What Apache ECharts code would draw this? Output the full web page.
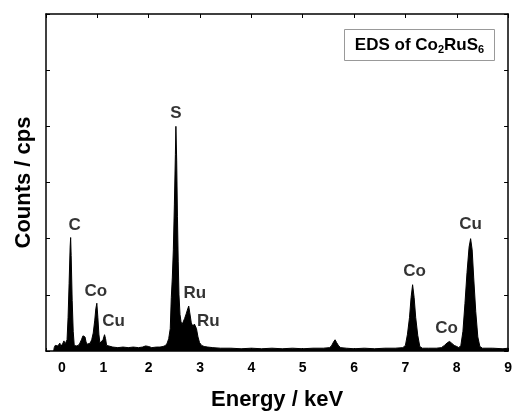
<!DOCTYPE html>
<html>
<head>
<meta charset="utf-8">
<script src="https://cdn.jsdelivr.net/npm/echarts@6/dist/echarts.min.js"></script>
<style>
html,body{margin:0;padding:0;background:#fff;overflow:hidden;}
#chart{width:515px;height:416px;}
</style>
</head>
<body>
<div id="chart"></div>
<script>
// Spectrum (energy in keV, counts in arbitrary cps units)
const energy = [
  0.15,0.16,0.18,0.19,0.21,0.23,0.25,0.27,0.29,0.31,0.33,0.35,0.37,0.39,
  0.41,0.43,0.45,0.47,0.48,0.49,0.51,0.53,0.55,0.57,0.59,0.61,0.63,0.66,
  0.69,0.72,0.74,0.76,0.78,0.80,0.83,0.86,0.89,0.92,0.95,0.97,0.99,1.01,
  1.03,1.05,1.08,1.11,1.14,1.16,1.18,1.21,1.30,1.40,1.50,1.60,1.70,1.80,
  1.88,1.94,1.97,2.00,2.06,2.15,2.22,2.28,2.33,2.36,2.39,2.42,2.44,2.46,
  2.48,2.50,2.52,2.53,2.545,2.56,2.575,2.59,2.61,2.63,2.65,2.67,2.70,2.73,
  2.76,2.78,2.80,2.83,2.86,2.89,2.91,2.93,2.96,2.99,3.03,3.08,3.15,3.25,
  3.40,3.60,3.80,4.00,4.20,4.40,4.60,4.80,5.00,5.20,5.40,5.52,5.56,5.60,
  5.63,5.66,5.70,5.74,5.85,6.00,6.20,6.40,6.60,6.80,6.95,7.00,7.04,7.08,
  7.11,7.14,7.17,7.20,7.24,7.28,7.33,7.45,7.60,7.70,7.76,7.82,7.86,7.90,
  7.95,8.00,8.04,8.08,8.12,8.16,8.20,8.24,8.27,8.30,8.33,8.37,8.41,8.45,
  8.50,8.70,8.90,9.00
];
const counts = [
  0.00,0.06,0.10,0.13,0.07,0.09,0.12,0.14,0.08,0.10,0.14,0.18,0.12,0.10,
  0.20,0.60,1.20,1.85,2.02,1.70,0.90,0.35,0.10,0.07,0.09,0.08,0.10,0.14,
  0.20,0.27,0.30,0.25,0.16,0.12,0.10,0.14,0.20,0.32,0.55,0.75,0.85,0.60,
  0.30,0.14,0.12,0.20,0.29,0.22,0.10,0.07,0.07,0.06,0.07,0.06,0.07,0.06,
  0.07,0.09,0.10,0.08,0.06,0.07,0.07,0.08,0.10,0.14,0.22,0.40,0.95,1.30,
  1.80,2.60,3.50,4.00,3.40,2.40,1.60,1.00,0.65,0.52,0.47,0.50,0.58,0.66,
  0.75,0.80,0.68,0.50,0.44,0.48,0.50,0.40,0.25,0.15,0.10,0.08,0.07,0.06,
  0.05,0.05,0.04,0.05,0.04,0.05,0.04,0.05,0.04,0.05,0.05,0.06,0.09,0.16,
  0.20,0.15,0.09,0.06,0.05,0.04,0.05,0.04,0.05,0.05,0.06,0.10,0.30,0.60,
  0.95,1.18,0.95,0.60,0.28,0.08,0.05,0.05,0.05,0.06,0.10,0.15,0.17,0.14,
  0.10,0.08,0.06,0.10,0.35,0.85,1.40,1.85,2.00,1.80,1.30,0.70,0.25,0.08,
  0.05,0.05,0.04,0.05
];
// Peak annotations
const peakNames  = ['C','Co','Cu','S','Ru','Ru','Co','Co','Cu'];
const peakEnergy = [0.48,0.99,1.14,2.53,2.78,2.91,7.14,7.86,8.27];
const peakHeight = [2.02,0.85,0.29,4.00,0.80,0.50,1.18,0.17,2.00];
const xTicks = [0,1,2,3,4,5,6,7,8,9];

const FONT = '"Liberation Sans", Arial, sans-serif';
const labelOffsets = [[4,-12],[-1,-12],[9,-13],[0,-13],[6,-13],[13,-2],[2,-13],[-3,-13],[0,-14]];

const chart = echarts.init(document.getElementById('chart'), null, {renderer:'canvas'});
const spectrum = energy.map((e,i)=>[e, counts[i]]);
const peaks = peakNames.map((n,i)=>({
  name:n, value:[peakEnergy[i], peakHeight[i]],
  label:{offset:labelOffsets[i]}
}));

const axLine = {show:true, onZero:false, lineStyle:{color:'#000', width:1.5}};
chart.setOption({
  animation:false,
  textStyle:{fontFamily:FONT},
  grid:{left:46, right:1, top:14, bottom:57, containLabel:false},
  xAxis:[{
    type:'value', min:xTicks[0], max:xTicks[xTicks.length-1], interval:1,
    position:'bottom',
    axisLine:axLine,
    axisTick:{show:true, inside:true, length:3, lineStyle:{color:'#000', width:1}},
    splitLine:{show:false},
    axisLabel:{
      show:true, margin:10, color:'#000', fontSize:14, fontWeight:'bold', fontFamily:FONT,
      formatter:function(v){ if(v===0) return '{z|0}'; if(v===1) return '{o|1}'; return String(v); },
      rich:{
        z:{padding:[0,0,0,32], fontSize:14, fontWeight:'bold', fontFamily:FONT, color:'#000'},
        o:{padding:[0,0,0,12], fontSize:14, fontWeight:'bold', fontFamily:FONT, color:'#000'}
      }
    },
    name:'Energy / keV', nameLocation:'middle', nameGap:38,
    nameTextStyle:{fontSize:22, fontWeight:'bold', color:'#000', fontFamily:FONT}
  },{
    type:'value', min:xTicks[0], max:xTicks[xTicks.length-1], interval:1,
    position:'top',
    axisLine:axLine,
    axisTick:{show:true, inside:true, length:4, lineStyle:{color:'#000', width:1}},
    splitLine:{show:false}, axisLabel:{show:false}
  }],
  yAxis:[{
    type:'value', min:0, max:6, interval:1, position:'left',
    axisLine:axLine,
    axisTick:{show:true, inside:true, length:4, lineStyle:{color:'#000', width:1}},
    splitLine:{show:false}, axisLabel:{show:false},
    name:'Counts / cps', nameLocation:'middle', nameGap:11,
    nameTextStyle:{fontSize:22, fontWeight:'bold', color:'#000', fontFamily:FONT}
  },{
    type:'value', min:0, max:6, interval:1, position:'right',
    axisLine:axLine,
    axisTick:{show:true, inside:true, length:4, lineStyle:{color:'#000', width:1}},
    splitLine:{show:false}, axisLabel:{show:false}
  }],
  series:[{
    type:'line', data:spectrum, xAxisIndex:0, yAxisIndex:0,
    symbol:'none', smooth:false,
    lineStyle:{color:'#000', width:1},
    areaStyle:{color:'#000', opacity:1},
    z:2
  },{
    type:'scatter', data:peaks, xAxisIndex:0, yAxisIndex:0,
    symbolSize:0, silent:true, z:5,
    label:{show:true, position:'inside', formatter:'{b}', color:'#000',
      fontSize:17, fontWeight:'bold', fontFamily:FONT}
  }],
  graphic:[{
    type:'rect', shape:{x:344.5, y:29.5, width:150, height:31},
    style:{fill:'#fff', stroke:'#999', lineWidth:1}, z:10
  },{
    type:'text', x:419.5, y:45, z:11,
    style:{
      text:'{a|EDS of Co}{s|2}{a|RuS}{s|6}',
      align:'center', verticalAlign:'middle',
      rich:{
        a:{fontSize:17, fontWeight:'bold', fontFamily:FONT, fill:'#000', lineHeight:20},
        s:{fontSize:11, fontWeight:'bold', fontFamily:FONT, fill:'#000', padding:[10,0,0,0]}
      }
    }
  }]
});
</script>
</body>
</html>
